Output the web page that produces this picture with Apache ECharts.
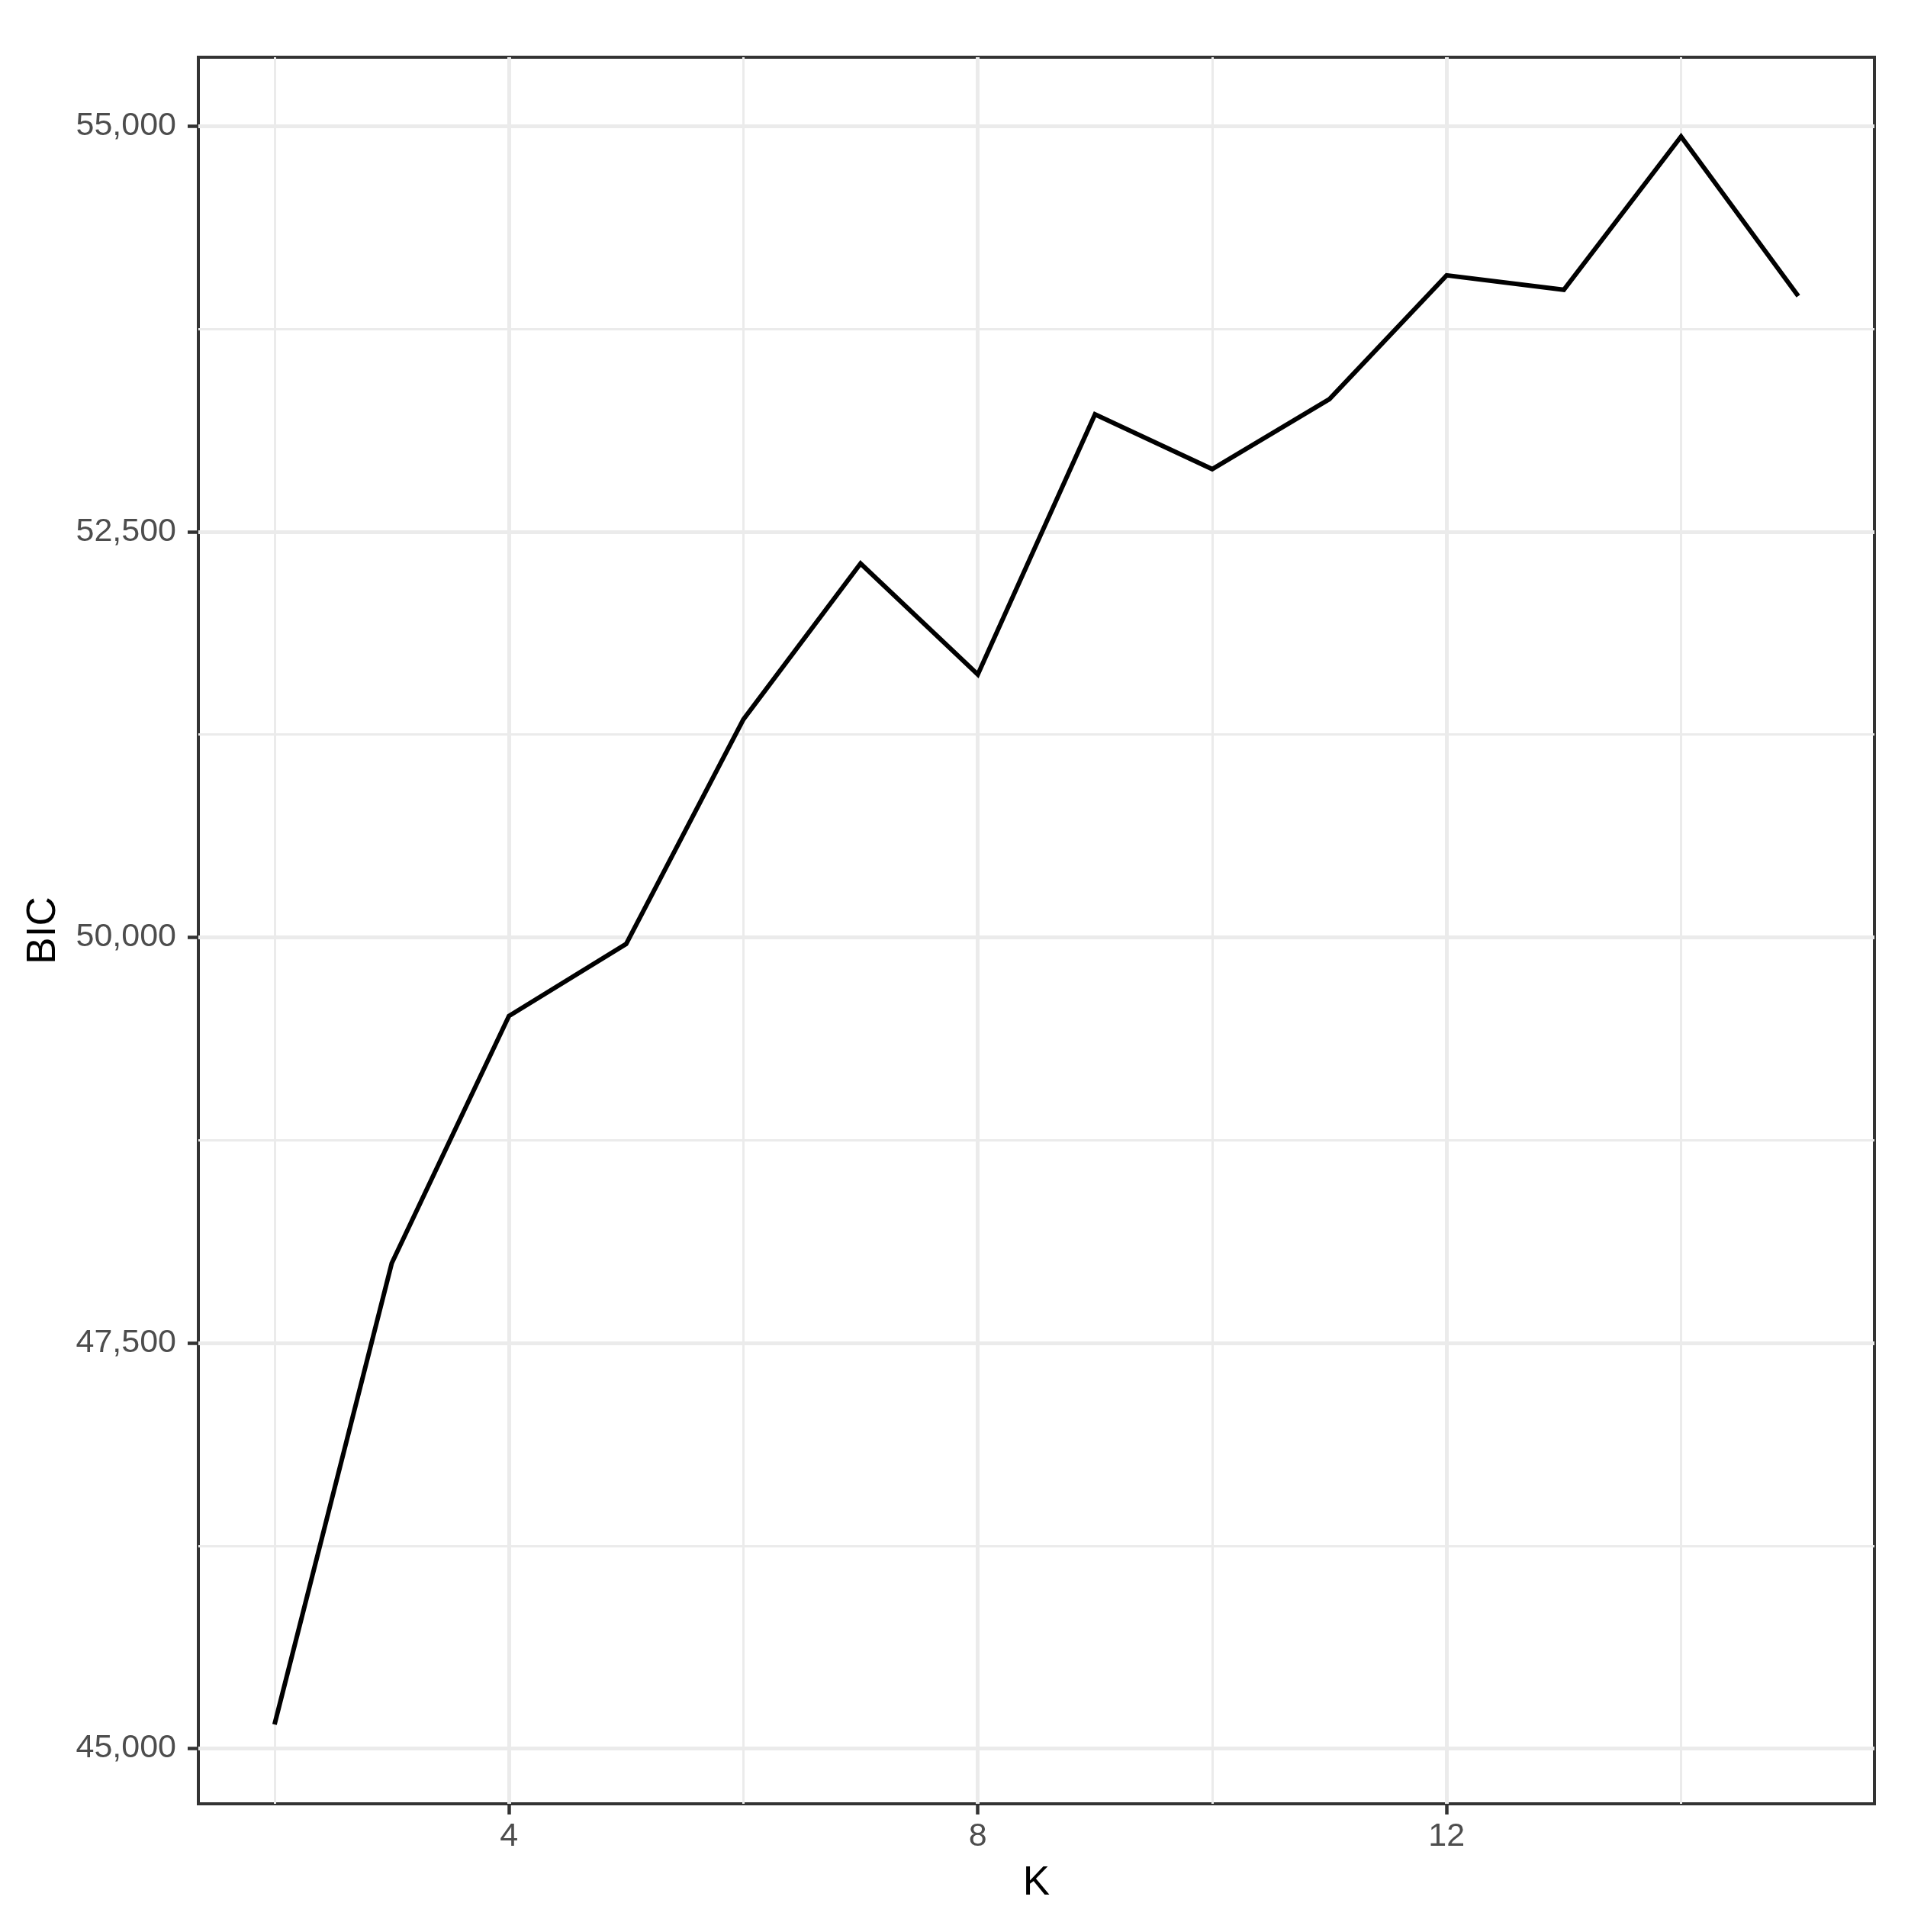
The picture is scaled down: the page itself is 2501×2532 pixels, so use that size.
<!DOCTYPE html>
<html>
<head>
<meta charset="utf-8">
<script src="https://cdn.jsdelivr.net/npm/echarts@6/dist/echarts.min.js"></script>
<style>
html,body{margin:0;padding:0;background:#fff;}
#chart{width:2501px;height:2532px;}
</style>
</head>
<body>
<div id="chart"></div>
<script>
// Data
const kValues = [2, 3, 4, 5, 6, 7, 8, 9, 10, 11, 12, 13, 14, 15];
const bicValues = [45149, 47992, 49515, 49959, 51343, 52304, 51620, 53223, 52886, 53317, 54080, 53991, 54935, 53952];
const xTicks = [4, 8, 12];
const xMinorGrid = [2, 6, 10, 14];
const yTicks = [45000, 47500, 50000, 52500, 55000];
const yMinorGrid = [46250, 48750, 51250, 53750];
const xTitle = 'K';
const yTitle = 'BIC';

// ggplot-like 5% expansion
const kMin = Math.min(...kValues), kMax = Math.max(...kValues);
const bMin = Math.min(...bicValues), bMax = Math.max(...bicValues);
const xPad = (kMax - kMin) * 0.05, yPad = (bMax - bMin) * 0.05;

const font = '"Liberation Sans", Arial, Helvetica, sans-serif';
const gridColor = '#EBEBEB';

function gridLines(vals, dim, width) {
  return vals.map(v => ({ [dim]: v, lineStyle: { width: width, color: gridColor, type: 'solid' } }));
}

const chart = echarts.init(document.getElementById('chart'), null, { renderer: 'canvas' });
chart.setOption({
  animation: false,
  backgroundColor: '#ffffff',
  grid: {
    left: 260, right: 44, top: 75, bottom: 168,
    show: true, borderColor: '#333333', borderWidth: 4, backgroundColor: 'transparent'
  },
  xAxis: {
    type: 'value',
    min: kMin - xPad, max: kMax + xPad,
    name: xTitle, nameLocation: 'middle', nameGap: 78,
    nameTextStyle: { fontFamily: font, fontSize: 53, color: '#000000', verticalAlign: 'top' },
    axisLine: { show: false },
    axisTick: { show: true, customValues: xTicks, length: 14, lineStyle: { color: '#333333', width: 4.5 } },
    axisLabel: { customValues: xTicks, margin: 22, fontFamily: font, fontSize: 43, color: '#4D4D4D' },
    splitLine: { show: false }
  },
  yAxis: {
    type: 'value',
    min: bMin - yPad, max: bMax + yPad,
    name: yTitle, nameLocation: 'middle', nameGap: 176, nameRotate: 90,
    nameTextStyle: { fontFamily: font, fontSize: 53, color: '#000000' },
    axisLine: { show: false },
    axisTick: { show: true, customValues: yTicks, length: 14, lineStyle: { color: '#333333', width: 4.5 } },
    axisLabel: {
      customValues: yTicks, margin: 29, fontFamily: font, fontSize: 43, color: '#4D4D4D',
      formatter: v => v.toLocaleString('en-US')
    },
    splitLine: { show: false }
  },
  series: [
    {
      type: 'line', data: [], z: 1, silent: true,
      markLine: {
        silent: true, symbol: ['none', 'none'], label: { show: false }, animation: false,
        emphasis: { disabled: true },
        data: [
          ...gridLines(xMinorGrid, 'xAxis', 3),
          ...gridLines(yMinorGrid, 'yAxis', 3),
          ...gridLines(xTicks, 'xAxis', 5),
          ...gridLines(yTicks, 'yAxis', 5)
        ]
      }
    },
    {
      type: 'line', z: 5,
      data: kValues.map((k, i) => [k, bicValues[i]]),
      showSymbol: false, symbol: 'none',
      lineStyle: { color: '#000000', width: 6, cap: 'butt', join: 'miter' },
      emphasis: { disabled: true }
    }
  ]
});
</script>
</body>
</html>
